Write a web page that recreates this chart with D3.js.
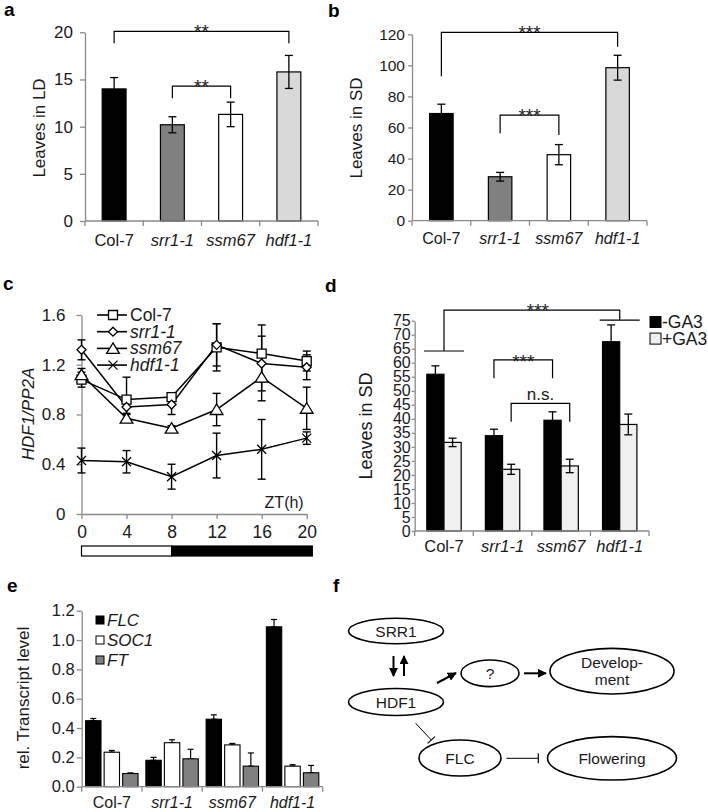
<!DOCTYPE html>
<html><head><meta charset="utf-8">
<script src="https://cdn.jsdelivr.net/npm/d3@7"></script>
<style>body{margin:0;background:#fff} svg text{font-family:'Liberation Sans',Arial,Helvetica,sans-serif}</style>
</head><body><svg id="fig" width="708" height="812"></svg>
<script>
// ---------- DATA ----------
const genotypes = ["Col-7","srr1-1","ssm67","hdf1-1"];
const genoItalic = [false,true,true,true];
const barFills = ["#000000","#808080","#ffffff","#d9d9d9"];
// a: leaves in long day
const leavesLD = [14.0, 10.2, 11.3, 15.8];
const leavesLDErr = [1.2, 0.85, 1.3, 1.75];
const ticksA = [0,5,10,15,20];
// b: leaves in short day
const leavesSD = [69, 28.3, 42.5, 98.5];
const leavesSDErr = [6, 2.8, 6.5, 8];
const ticksB = [0,20,40,60,80,100,120];
// c: HDF1/PP2A time course
const ztHours = [0,4,8,12,16,20];
const ticksCY = [0,0.4,0.8,1.2,1.6];
const hdfCol7 = [1.08,0.92,0.94,1.34,1.29,1.23];
const hdfCol7Err = [0.06,0.18,0.03,0.19,0.23,0.08];
const hdfSrr1 = [1.32,0.86,0.88,1.36,1.21,1.18];
const hdfSrr1Err = [0.08,0.05,0.08,0.17,0.22,0.10];
const hdfSsm67 = [1.12,0.77,0.69,0.84,1.10,0.85];
const hdfSsm67Err = [0.05,0.03,0.02,0.13,0.19,0.17];
const hdfHdf1 = [0.43,0.42,0.30,0.47,0.52,0.61];
const hdfHdf1Err = [0.10,0.09,0.10,0.18,0.24,0.05];
const lightPeriod = [0,8];
const darkPeriod = [8,20.5];
// d: GA3 treatment
const gaTreat = ["-GA3","+GA3"];
const gaFills = ["#000000","#f0f0f0"];
const sdMinusGA = [55.9,34.0,39.5,67.5];
const sdMinusGAErr = [3.0,2.3,3.0,6.0];
const sdPlusGA = [31.6,22.0,23.2,38.0];
const sdPlusGAErr = [1.5,1.8,2.4,3.7];
const ticksD = [0,5,10,15,20,25,30,35,40,45,50,55,60,65,70,75];
// e: transcript levels
const genes = ["FLC","SOC1","FT"];
const geneFills = ["#000000","#ffffff","#808080"];
const flcLevel = [0.45,0.18,0.46,1.09];
const flcErr = [0.015,0.02,0.03,0.05];
const soc1Level = [0.235,0.30,0.285,0.14];
const soc1Err = [0.012,0.02,0.01,0.01];
const ftLevel = [0.09,0.19,0.14,0.095];
const ftErr = [0.004,0.065,0.09,0.05];
const ticksE = [0,0.2,0.4,0.6,0.8,1.0,1.2];
// f: model labels
const fNodeLabels = ["SRR1","HDF1","?","Develop-|ment","FLC","Flowering"];

// ---------- HELPERS ----------
const svg = d3.select("#fig");
const AX = "#8a8a8a";

function letter(t,x,y){
  svg.append("text").attr("x",x).attr("y",y).attr("font-size",19).attr("font-weight","bold").text(t);
}
function yAxis(g,y,x0,ticks,fmt,size,pad,fs){
  const ax = g.append("g").attr("transform",`translate(${x0},0)`)
    .call(d3.axisLeft(y).tickValues(ticks).tickFormat(fmt).tickSize(size).tickPadding(pad).tickSizeOuter(0));
  ax.select(".domain").attr("stroke",AX).attr("stroke-width",1.3);
  ax.selectAll(".tick line").attr("stroke",AX).attr("stroke-width",1.3);
  ax.selectAll(".tick text").attr("font-size",fs).attr("fill","#1a1a1a").attr("font-family",null);
  return ax;
}
function yLabel(g,t,x,y,fs,italic){
  g.append("text").attr("transform",`translate(${x},${y}) rotate(-90)`).attr("text-anchor","middle")
    .attr("font-size",fs).attr("font-style",italic?"italic":"normal").attr("fill","#1a1a1a").text(t);
}
function catAxis(g,band,yPix,fs,labelY){
  const [r0,r1] = band.range();
  g.append("line").attr("x1",r0).attr("x2",r1).attr("y1",yPix).attr("y2",yPix).attr("stroke",AX).attr("stroke-width",1.3);
  const bounds = band.domain().map(d=>band(d)).concat([r1]);
  g.selectAll(null).data(bounds).join("line").attr("x1",d=>d).attr("x2",d=>d)
    .attr("y1",yPix).attr("y2",yPix+5).attr("stroke",AX).attr("stroke-width",1.3);
  g.selectAll(null).data(band.domain()).join("text")
    .attr("x",d=>band(d)+band.bandwidth()/2).attr("y",labelY).attr("text-anchor","middle")
    .attr("font-size",fs).attr("fill","#1a1a1a")
    .attr("font-style",(d,i)=>genoItalic[i]?"italic":"normal").text(d=>d);
}
function errBar(g,x,yTop,yBot,cap,sw){
  g.append("line").attr("x1",x).attr("x2",x).attr("y1",yTop).attr("y2",yBot).attr("stroke","#000").attr("stroke-width",sw||1.3);
  g.append("line").attr("x1",x-cap/2).attr("x2",x+cap/2).attr("y1",yTop).attr("y2",yTop).attr("stroke","#000").attr("stroke-width",sw||1.3);
  if (yBot!==null) g.append("line").attr("x1",x-cap/2).attr("x2",x+cap/2).attr("y1",yBot).attr("y2",yBot).attr("stroke","#000").attr("stroke-width",sw||1.3);
}
function bracket(g,x1,x2,yTop,yL,yR,label,fs,labelDy){
  g.append("path").attr("d",`M${x1},${yL}V${yTop}H${x2}V${yR}`).attr("fill","none").attr("stroke","#000").attr("stroke-width",1.2);
  g.append("text").attr("x",(x1+x2)/2).attr("y",yTop+labelDy).attr("text-anchor","middle").attr("font-size",fs).attr("fill","#1a1a1a").text(label);
}
function simpleBarPanel(g,cfg){
  const band = d3.scaleBand().domain(genotypes).range(cfg.xr).paddingInner(0).paddingOuter(0);
  const y = d3.scaleLinear().domain(cfg.yd).range(cfg.yr);
  const w = band.bandwidth()*cfg.frac;
  const cx = c => band(c)+band.bandwidth()/2;
  g.selectAll(null).data(genotypes).join("rect")
    .attr("x",d=>cx(d)-w/2).attr("y",(d,i)=>y(cfg.vals[i])).attr("width",w)
    .attr("height",(d,i)=>y(0)-y(cfg.vals[i])).attr("fill",(d,i)=>barFills[i])
    .attr("stroke","#000").attr("stroke-width",1.2);
  genotypes.forEach((c,i)=>errBar(g,cx(c),y(cfg.vals[i]+cfg.errs[i]),y(cfg.vals[i]-cfg.errs[i]),8));
  yAxis(g,y,cfg.xr[0],cfg.ticks,d3.format("d"),cfg.tickSize,cfg.tickPad,cfg.tfs);
  catAxis(g,band,y(0),cfg.cfs,cfg.catY);
  return {band,y,cx};
}

// ---------- PANEL a ----------
letter("a",4,16);
{
  const g = svg.append("g");
  const {y,cx} = simpleBarPanel(g,{xr:[85,318],yd:[0,20],yr:[221,32.3],frac:0.41,vals:leavesLD,errs:leavesLDErr,
    ticks:ticksA,tickSize:5,tickPad:7,tfs:17,cfs:16.5,catY:246});
  bracket(g,cx("Col-7"),cx("hdf1-1"),y(20.1),y(18.85),y(18.85),"**",19,7);
  bracket(g,cx("srr1-1"),cx("ssm67"),y(14.3),y(13.0),y(13.0),"**",19,7);
  yLabel(g,"Leaves in LD",45,128,17,false);
}
// ---------- PANEL b ----------
letter("b",328,17);
{
  const g = svg.append("g");
  const {y,cx} = simpleBarPanel(g,{xr:[412,647],yd:[0,120],yr:[220.7,34.3],frac:0.4,vals:leavesSD,errs:leavesSDErr,
    ticks:ticksB,tickSize:4,tickPad:3,tfs:15.5,cfs:16,catY:244});
  bracket(g,cx("Col-7"),cx("hdf1-1"),y(121.3),y(93),y(112),"***",19,7);
  bracket(g,cx("srr1-1"),cx("ssm67"),y(68),y(56.3),y(55.2),"***",19,7);
  yLabel(g,"Leaves in SD",362,128,17,false);
}
// ---------- PANEL c ----------
letter("c",3,290);
{
  const g = svg.append("g");
  const x = d3.scaleLinear().domain([0,20]).range([81.5,306.7]);
  const y = d3.scaleLinear().domain([0,1.6]).range([514,315]);
  yAxis(g,y,81.5,ticksCY,d=>d===0?"0":d.toFixed(1),5,11,17);
  const xa = g.append("g").attr("transform",`translate(0,${y(0)})`)
    .call(d3.axisBottom(x).tickValues(ztHours).tickSize(5).tickPadding(7).tickSizeOuter(0));
  xa.select(".domain").attr("stroke",AX).attr("stroke-width",1.3);
  xa.selectAll(".tick line").attr("stroke",AX).attr("stroke-width",1.3);
  xa.selectAll(".tick text").attr("font-size",17.5).attr("fill","#1a1a1a").attr("font-family",null);
  g.append("text").attr("x",x(20)-3).attr("y",y(0)-6).attr("text-anchor","end").attr("font-size",16).attr("fill","#1a1a1a").text("ZT(h)");
  // light/dark bar
  g.append("rect").attr("x",x(lightPeriod[0])).attr("y",546).attr("width",x(lightPeriod[1])-x(lightPeriod[0])).attr("height",10)
    .attr("fill","#fff").attr("stroke","#000").attr("stroke-width",1.2);
  g.append("rect").attr("x",x(darkPeriod[0])).attr("y",546).attr("width",x(darkPeriod[1])-x(darkPeriod[0])).attr("height",10)
    .attr("fill","#000").attr("stroke","#000").attr("stroke-width",1.2);

  const markers = {
    square: s=>`M${-s/2},${-s/2}h${s}v${s}h${-s}Z`,
    diamond: s=>`M0,${-s/2}L${s/2},0L0,${s/2}L${-s/2},0Z`,
    triangle: s=>`M0,${-s*0.5}L${s*0.58},${s*0.45}L${-s*0.58},${s*0.45}Z`,
    cross: s=>`M${-s/2},${-s/2}L${s/2},${s/2}M${s/2},${-s/2}L${-s/2},${s/2}`
  };
  const series = [
    {name:"Col-7",vals:hdfCol7,errs:hdfCol7Err,m:"square",s:9},
    {name:"srr1-1",vals:hdfSrr1,errs:hdfSrr1Err,m:"diamond",s:9},
    {name:"ssm67",vals:hdfSsm67,errs:hdfSsm67Err,m:"triangle",s:11},
    {name:"hdf1-1",vals:hdfHdf1,errs:hdfHdf1Err,m:"cross",s:9}
  ];
  const line = d3.line().x((d,i)=>x(ztHours[i])).y(d=>y(d));
  series.forEach(sr=>{
    sr.vals.forEach((v,i)=>errBar(g,x(ztHours[i]),y(v+sr.errs[i]),y(v-sr.errs[i]),8,1.4));
  });
  series.forEach(sr=>{
    g.append("path").attr("d",line(sr.vals)).attr("fill","none").attr("stroke","#000").attr("stroke-width",1.5);
  });
  series.forEach(sr=>{
    g.selectAll(null).data(sr.vals).join("path")
      .attr("transform",(d,i)=>`translate(${x(ztHours[i])},${y(d)})`)
      .attr("d",markers[sr.m](sr.s)).attr("fill",sr.m==="cross"?"none":"#fff").attr("stroke","#000").attr("stroke-width",1.3);
  });
  // legend
  series.forEach((sr,i)=>{
    const ly = 315 + i*16.7;
    g.append("line").attr("x1",97).attr("x2",127).attr("y1",ly).attr("y2",ly).attr("stroke","#000").attr("stroke-width",1.6);
    g.append("path").attr("transform",`translate(113,${ly})`).attr("d",markers[sr.m](sr.s))
      .attr("fill",sr.m==="cross"?"none":"#fff").attr("stroke","#000").attr("stroke-width",1.3);
    g.append("text").attr("x",130).attr("y",ly+6).attr("font-size",17.5).attr("fill","#1a1a1a")
      .attr("font-style",genoItalic[i]?"italic":"normal").text(sr.name);
  });
  yLabel(g,"HDF1/PP2A",34,414,17,true);
}
// ---------- PANEL d ----------
letter("d",325,292);
{
  const g = svg.append("g");
  const band = d3.scaleBand().domain(genotypes).range([414.7,649]).paddingInner(0).paddingOuter(0);
  const y = d3.scaleLinear().domain([0,75]).range([531,320.7]);
  const gw = band.bandwidth()*0.587;
  const inner = d3.scaleBand().domain(gaTreat).range([0,gw]).paddingInner(0);
  const vals = [sdMinusGA,sdPlusGA], errs = [sdMinusGAErr,sdPlusGAErr];
  const bx = (c,t) => band(c)+band.bandwidth()/2-gw/2+inner(t);
  const bc = (c,t) => bx(c,t)+inner.bandwidth()/2;
  gaTreat.forEach((t,ti)=>{
    g.selectAll(null).data(genotypes).join("rect")
      .attr("x",d=>bx(d,t)).attr("y",(d,i)=>y(vals[ti][i])).attr("width",inner.bandwidth())
      .attr("height",(d,i)=>y(0)-y(vals[ti][i])).attr("fill",gaFills[ti]).attr("stroke","#000").attr("stroke-width",1.2);
    genotypes.forEach((c,i)=>errBar(g,bc(c,t),y(vals[ti][i]+errs[ti][i]),y(vals[ti][i]-errs[ti][i]),8));
  });
  yAxis(g,y,414.7,ticksD,d3.format("d"),3,1,16);
  catAxis(g,band,y(0),16.5,552);
  // brackets
  const cC = band("Col-7")+band.bandwidth()/2, cH = band("hdf1-1")+band.bandwidth()/2;
  g.append("path").attr("d",`M${cC},${y(64.2)}V${y(78.8)}H${cH}V${y(75.2)}`).attr("fill","none").attr("stroke","#000").attr("stroke-width",1.2);
  g.append("line").attr("x1",cC-20).attr("x2",cC+20).attr("y1",y(64.2)).attr("y2",y(64.2)).attr("stroke","#000").attr("stroke-width",1.2);
  g.append("line").attr("x1",cH-20).attr("x2",cH+20).attr("y1",y(75.2)).attr("y2",y(75.2)).attr("stroke","#000").attr("stroke-width",1.2);
  g.append("text").attr("x",(cC+cH)/2+6).attr("y",y(78.8)+7).attr("text-anchor","middle").attr("font-size",19).attr("fill","#1a1a1a").text("***");
  bracket(g,bc("srr1-1","-GA3"),bc("ssm67","-GA3"),y(61),y(54.5),y(54.5),"***",19,8);
  bracket(g,bc("srr1-1","+GA3"),bc("ssm67","+GA3"),y(45.5),y(39),y(39),"n.s.",17,-3);
  // legend
  gaTreat.forEach((t,i)=>{
    const ly = 322 + i*16.6;
    g.append("rect").attr("x",650).attr("y",ly-5.5).attr("width",11).attr("height",11).attr("fill",gaFills[i]).attr("stroke","#000").attr("stroke-width",1);
    g.append("text").attr("x",662).attr("y",ly+6).attr("font-size",17.5).attr("fill","#1a1a1a").text(t);
  });
  yLabel(g,"Leaves in SD",372,426,18,false);
}
// ---------- PANEL e ----------
letter("e",7,592);
{
  const g = svg.append("g");
  const band = d3.scaleBand().domain(genotypes).range([81.7,322.7]).paddingInner(0).paddingOuter(0);
  const y = d3.scaleLinear().domain([0,1.2]).range([786.7,610.7]);
  const gw = band.bandwidth()*0.87;
  const inner = d3.scaleBand().domain(genes).range([0,gw]).paddingInner(0.17);
  const vals = [flcLevel,soc1Level,ftLevel], errs = [flcErr,soc1Err,ftErr];
  const bx = (c,t) => band(c)+band.bandwidth()/2-gw/2+inner(t);
  genes.forEach((t,ti)=>{
    genotypes.forEach((c,i)=>errBar(g,bx(c,t)+inner.bandwidth()/2,y(vals[ti][i]+errs[ti][i]),y(vals[ti][i]),6,1.2));
    g.selectAll(null).data(genotypes).join("rect")
      .attr("x",d=>bx(d,t)).attr("y",(d,i)=>y(vals[ti][i])).attr("width",inner.bandwidth())
      .attr("height",(d,i)=>y(0)-y(vals[ti][i])).attr("fill",geneFills[ti]).attr("stroke","#000").attr("stroke-width",1.1);
  });
  yAxis(g,y,81.7,ticksE,d=>d.toFixed(1),5,2,16.5);
  catAxis(g,band,y(0),16,808);
  genes.forEach((t,i)=>{
    const ly = 620 + i*20;
    g.append("rect").attr("x",96).attr("y",ly-4).attr("width",8).attr("height",8).attr("fill",geneFills[i]).attr("stroke","#000").attr("stroke-width",1);
    g.append("text").attr("x",107).attr("y",ly+6).attr("font-size",17).attr("font-style","italic").attr("fill","#1a1a1a").text(t);
  });
  yLabel(g,"rel. Transcript level",29,698,17,false);
}
// ---------- PANEL f ----------
letter("f",333,592);
{
  const g = svg.append("g");
  const layout = [
    {cx:396,cy:631,rx:47.5,ry:12.8},
    {cx:396,cy:702,rx:47.5,ry:13.5},
    {cx:490,cy:673.3,rx:29,ry:13.3},
    {cx:612,cy:671.2,rx:62,ry:22.8},
    {cx:460,cy:758,rx:41,ry:18},
    {cx:612,cy:758.3,rx:64.5,ry:21.7}
  ];
  const nodes = fNodeLabels.map((l,i)=>Object.assign({label:l},layout[i]));
  g.selectAll(null).data(nodes).join("ellipse").attr("cx",d=>d.cx).attr("cy",d=>d.cy).attr("rx",d=>d.rx).attr("ry",d=>d.ry)
    .attr("fill","#fff").attr("stroke","#000").attr("stroke-width",1.6);
  nodes.forEach(n=>{
    const lines = n.label.split("|");
    lines.forEach((t,k)=>{
      g.append("text").attr("x",n.cx).attr("y",n.cy+5.5+(k-(lines.length-1)/2)*17.5).attr("text-anchor","middle")
        .attr("font-size",15.5).attr("fill","#1a1a1a").text(t);
    });
  });
  const defs = svg.append("defs");
  defs.append("marker").attr("id","ah").attr("viewBox","0 0 10 10").attr("refX",9).attr("refY",5)
    .attr("markerWidth",4.5).attr("markerHeight",4.5).attr("markerUnits","strokeWidth").attr("orient","auto")
    .append("path").attr("d","M0,0L10,5L0,10Z").attr("fill","#000");
  const arrows = [[393.5,656,393.5,676],[404,676,404,656],[437,683,456,673],[524,673.3,546,673.3]];
  arrows.forEach(a=>g.append("line").attr("x1",a[0]).attr("y1",a[1]).attr("x2",a[2]).attr("y2",a[3])
    .attr("stroke","#000").attr("stroke-width",2).attr("marker-end","url(#ah)"));
  const inhib = [[415.7,723.3,431.3,740],[506.3,758.3,538.3,758.3]];
  inhib.forEach(a=>{
    g.append("line").attr("x1",a[0]).attr("y1",a[1]).attr("x2",a[2]).attr("y2",a[3]).attr("stroke","#000").attr("stroke-width",1);
    const ang = Math.atan2(a[3]-a[1],a[2]-a[0]), px = -Math.sin(ang)*5, py = Math.cos(ang)*5;
    g.append("line").attr("x1",a[2]-px).attr("y1",a[3]-py).attr("x2",a[2]+px).attr("y2",a[3]+py).attr("stroke","#000").attr("stroke-width",1.2);
  });
}
</script></body></html>
